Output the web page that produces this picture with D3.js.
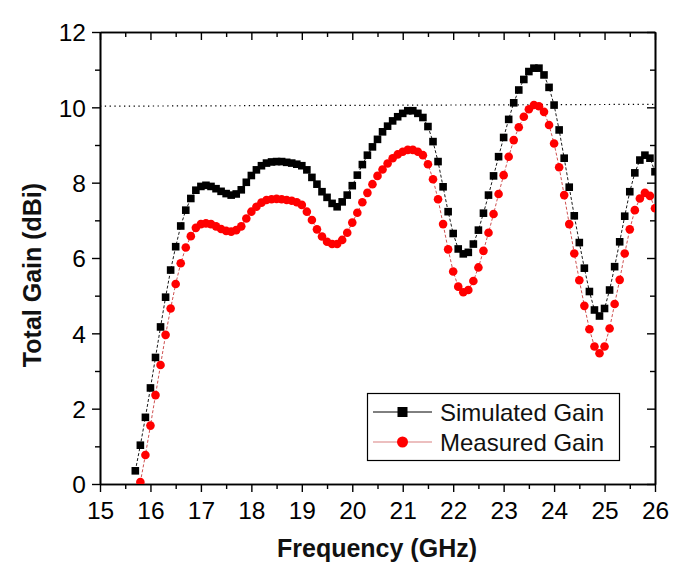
<!DOCTYPE html>
<html><head><meta charset="utf-8">
<script src="https://cdn.jsdelivr.net/npm/d3@7"></script>
<style>
html,body{margin:0;padding:0;background:#fff;}
text{font-family:"Liberation Sans",Arial,sans-serif;}
</style></head>
<body><svg id="chart" width="674" height="571"></svg>
<script>
const freq = [15.7,15.8,15.9,16.0,16.1,16.2,16.3,16.4,16.5,16.6,16.7,16.8,16.9,17.0,17.1,17.2,17.3,17.4,17.5,17.6,17.7,17.8,17.9,18.0,18.1,18.2,18.3,18.4,18.5,18.6,18.7,18.8,18.9,19.0,19.1,19.2,19.3,19.4,19.5,19.6,19.7,19.8,19.9,20.0,20.1,20.2,20.3,20.4,20.5,20.6,20.7,20.8,20.9,21.0,21.1,21.2,21.3,21.4,21.5,21.6,21.7,21.8,21.9,22.0,22.1,22.2,22.3,22.4,22.5,22.6,22.7,22.8,22.9,23.0,23.1,23.2,23.3,23.4,23.5,23.6,23.7,23.8,23.9,24.0,24.1,24.2,24.3,24.4,24.5,24.6,24.7,24.8,24.9,25.0,25.1,25.2,25.3,25.4,25.5,25.6,25.7,25.8,25.9,26.0];
const simulated = [0.35,1.03,1.77,2.55,3.36,4.17,4.96,5.68,6.30,6.85,7.27,7.58,7.80,7.90,7.93,7.90,7.84,7.77,7.71,7.67,7.70,7.81,8.01,8.19,8.34,8.45,8.52,8.55,8.56,8.56,8.54,8.52,8.49,8.45,8.34,8.14,7.96,7.76,7.61,7.45,7.36,7.49,7.67,7.92,8.20,8.48,8.73,8.95,9.15,9.35,9.50,9.64,9.75,9.84,9.91,9.91,9.84,9.73,9.49,9.09,8.56,7.89,7.23,6.65,6.24,6.11,6.15,6.37,6.74,7.19,7.67,8.18,8.69,9.20,9.68,10.12,10.46,10.74,10.95,11.04,11.04,10.86,10.53,10.06,9.40,8.65,7.88,7.12,6.41,5.73,5.11,4.62,4.46,4.66,5.15,5.77,6.43,7.11,7.76,8.26,8.60,8.73,8.65,8.29];
const measured = [null,0.05,0.77,1.55,2.36,3.16,3.96,4.66,5.31,5.86,6.28,6.58,6.80,6.90,6.92,6.90,6.84,6.77,6.72,6.70,6.74,6.84,7.05,7.23,7.36,7.47,7.54,7.56,7.57,7.56,7.54,7.52,7.48,7.41,7.23,7.01,6.76,6.57,6.43,6.37,6.37,6.48,6.67,6.94,7.20,7.48,7.73,7.96,8.18,8.35,8.51,8.65,8.75,8.82,8.87,8.87,8.82,8.73,8.49,8.09,7.56,6.90,6.23,5.64,5.24,5.09,5.15,5.39,5.75,6.19,6.67,7.17,7.70,8.20,8.69,9.13,9.47,9.75,9.95,10.06,10.03,9.88,9.53,9.04,8.41,7.67,6.90,6.12,5.41,4.73,4.11,3.65,3.47,3.65,4.13,4.78,5.42,6.12,6.76,7.27,7.58,7.73,7.65,7.32];
const refLineFreq = [15, 26];
const refLineValue = [10.03, 10.08];
const xTicks = [15,16,17,18,19,20,21,22,23,24,25,26];
const yTicks = [0,2,4,6,8,10,12];
const seriesNames = ["Simulated Gain","Measured Gain"];

const svg = d3.select("#chart");
const L=100, R=655, T=32, B=484;
const x = d3.scaleLinear().domain([15,26]).range([L,R]);
const y = d3.scaleLinear().domain([0,12]).range([B,T]);

svg.append("rect").attr("width",674).attr("height",571).attr("fill","#fff");
svg.append("defs").append("clipPath").attr("id","clip")
  .append("rect").attr("x",L).attr("y",T).attr("width",R-L).attr("height",B-T);

const fmt = d3.format("d");
const minorX = d3.range(15.5,26,1);
const minorY = d3.range(1,12,2);
const gB = svg.append("g").attr("transform",`translate(0,${B})`)
  .call(d3.axisBottom(x).tickValues(xTicks).tickFormat(fmt).tickSize(8).tickSizeOuter(0));
const gBm = svg.append("g").attr("transform",`translate(0,${B})`)
  .call(d3.axisBottom(x).tickValues(minorX).tickFormat("").tickSize(5).tickSizeOuter(0));
const gL = svg.append("g").attr("transform",`translate(${L},0)`)
  .call(d3.axisLeft(y).tickValues(yTicks).tickFormat(fmt).tickSize(8).tickSizeOuter(0));
const gLm = svg.append("g").attr("transform",`translate(${L},0)`)
  .call(d3.axisLeft(y).tickValues(minorY).tickFormat("").tickSize(5).tickSizeOuter(0));
const gT = svg.append("g").attr("transform",`translate(0,${T})`)
  .call(d3.axisBottom(x).tickValues(xTicks).tickFormat("").tickSize(8).tickSizeOuter(0));
const gTm = svg.append("g").attr("transform",`translate(0,${T})`)
  .call(d3.axisBottom(x).tickValues(minorX).tickFormat("").tickSize(5).tickSizeOuter(0));
const gR = svg.append("g").attr("transform",`translate(${R},0)`)
  .call(d3.axisLeft(y).tickValues(yTicks).tickFormat("").tickSize(8).tickSizeOuter(0));
const gRm = svg.append("g").attr("transform",`translate(${R},0)`)
  .call(d3.axisLeft(y).tickValues(minorY).tickFormat("").tickSize(5).tickSizeOuter(0));
[gB,gBm,gL,gLm,gT,gTm,gR,gRm].forEach(g=>{
  g.select(".domain").attr("stroke","#000").attr("stroke-width",1.6);
  g.selectAll(".tick line").attr("stroke","#000").attr("stroke-width",1.4);
  g.selectAll(".tick text").attr("fill","#000").style("font-size","24.5px")
   .style("font-family","'Liberation Sans',Arial,sans-serif");
});
gB.selectAll(".tick text").attr("dy",0).attr("y",35);
gL.selectAll(".tick text").attr("x",-14).attr("dy","0.36em");

svg.append("line")
  .attr("x1",x(refLineFreq[0])).attr("x2",x(refLineFreq[1]))
  .attr("y1",y(refLineValue[0])).attr("y2",y(refLineValue[1]))
  .attr("stroke","#000").attr("stroke-width",1.2).attr("stroke-dasharray","1.3,3.5");

const plot = svg.append("g").attr("clip-path","url(#clip)");
const simData = freq.map((f,i)=>({f,v:simulated[i]}));
const meaData = freq.map((f,i)=>({f,v:measured[i]})).filter(d=>d.v!==null);
const line = d3.line().x(d=>x(d.f)).y(d=>y(d.v));

plot.append("path").datum(simData).attr("d",line).attr("fill","none")
  .attr("stroke","#000").attr("stroke-width",0.9).attr("stroke-dasharray","3,2");
plot.append("path").datum(meaData).attr("d",line).attr("fill","none")
  .attr("stroke","#c83c3c").attr("stroke-width",0.9).attr("stroke-dasharray","3,2");

const sq = 7.6;
plot.selectAll("rect.sim").data(simData).enter().append("rect").attr("class","sim")
  .attr("x",d=>x(d.f)-sq/2).attr("y",d=>y(d.v)-sq/2).attr("width",sq).attr("height",sq)
  .attr("fill","#000");
plot.selectAll("circle.mea").data(meaData).enter().append("circle").attr("class","mea")
  .attr("cx",d=>x(d.f)).attr("cy",d=>y(d.v)).attr("r",4.3).attr("fill","#ff0000");

svg.append("text").attr("x",377).attr("y",557).attr("text-anchor","middle")
  .style("font-size","25px").style("font-weight","bold").attr("fill","#111")
  .text("Frequency (GHz)");
svg.append("text").attr("transform","translate(41,275) rotate(-90)").attr("text-anchor","middle")
  .style("font-size","25px").style("font-weight","bold").attr("fill","#111")
  .text("Total Gain (dBi)");

const lg = svg.append("g");
lg.append("rect").attr("x",367.5).attr("y",393.5).attr("width",252).attr("height",67)
  .attr("fill","#fff").attr("stroke","#000").attr("stroke-width",1.2);
const rows = [412, 442];
lg.append("line").attr("x1",373).attr("x2",432).attr("y1",rows[0]).attr("y2",rows[0])
  .attr("stroke","#000").attr("stroke-width",1);
lg.append("rect").attr("x",402.5-5).attr("y",rows[0]-5).attr("width",10).attr("height",10).attr("fill","#000");
lg.append("line").attr("x1",373).attr("x2",432).attr("y1",rows[1]).attr("y2",rows[1])
  .attr("stroke","#d98080").attr("stroke-width",1.2);
lg.append("circle").attr("cx",402.5).attr("cy",rows[1]).attr("r",5.5).attr("fill","#ff0000");
lg.selectAll("text.lt").data(seriesNames).enter().append("text").attr("class","lt")
  .attr("x",440).attr("y",(d,i)=>rows[i]+8.5).style("font-size","24px").attr("fill","#111")
  .text(d=>d);
</script></body></html>
